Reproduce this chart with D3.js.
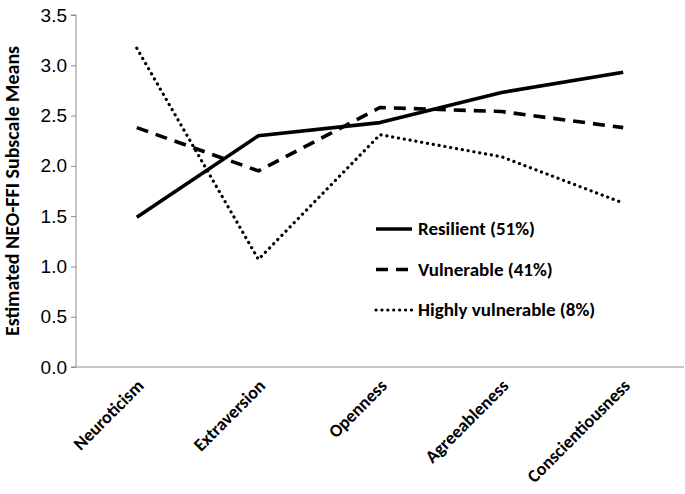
<!DOCTYPE html>
<html>
<head>
<meta charset="utf-8">
<script src="https://cdn.jsdelivr.net/npm/d3@7"></script>
<style>
  body { margin: 0; background: #fff; }
  svg { display: block; font-family: Carlito, Calibri, "Open Sans", sans-serif; }
</style>
</head>
<body>
<div id="chart"></div>
<script>
// Data
const traits = ['Neuroticism', 'Extraversion', 'Openness', 'Agreeableness', 'Conscientiousness'];
const resilient = [1.49, 2.30, 2.43, 2.73, 2.93];
const vulnerable = [2.38, 1.95, 2.58, 2.54, 2.38];
const highlyVulnerable = [3.17, 1.07, 2.31, 2.09, 1.63];
const seriesNames = ['Resilient (51%)', 'Vulnerable (41%)', 'Highly vulnerable (8%)'];
const yTicks = [0, 0.5, 1, 1.5, 2, 2.5, 3, 3.5];

const width = 685, height = 494;
const margin = { top: 15, right: 1, bottom: 127, left: 76 };
const innerW = width - margin.left - margin.right;
const innerH = height - margin.top - margin.bottom;

const svg = d3.select('#chart').append('svg')
    .attr('width', width)
    .attr('height', height);

const g = svg.append('g')
    .attr('transform', `translate(${margin.left},${margin.top})`);

// Scales
const x = d3.scaleBand().domain(traits).range([0, innerW]);
const y = d3.scaleLinear().domain([0, 3.5]).range([innerH, 0]);

// Axes
const yAxis = d3.axisLeft(y).tickValues(yTicks).tickFormat(d3.format('.1f')).tickSize(5).tickPadding(4);
const gy = g.append('g').call(yAxis);
gy.selectAll('text').style('font-size', '19px').attr('fill', '#000');

const xAxis = d3.axisBottom(x).tickSize(0).tickFormat('');
const gx = g.append('g').attr('transform', `translate(0,${innerH})`).call(xAxis);

// Tick marks at band boundaries
const bounds = traits.map(t => x(t)).concat([innerW]);
gx.selectAll('.bound')
    .data(bounds)
    .enter().append('line')
    .attr('x1', d => d).attr('x2', d => d)
    .attr('y1', 0).attr('y2', 5);

g.selectAll('.domain, .tick line, .bound').attr('stroke', '#8c8c8c').attr('stroke-width', 1);
gy.select('.domain').attr('d', `M-5,${innerH}H0V0H-5`);
gx.select('.domain').attr('d', `M0,0H${innerW}`);

// Category labels
g.append('g').selectAll('text')
    .data(traits)
    .enter().append('text')
    .attr('transform', d => `translate(${x(d) + x.bandwidth() / 2 + 8},${innerH + 20}) rotate(-45)`)
    .attr('text-anchor', 'end')
    .style('font-size', '18px')
    .style('font-weight', 'bold')
    .text(d => d);

// Y label
g.append('text')
    .attr('transform', 'rotate(-90)')
    .attr('x', -innerH / 2)
    .attr('y', -57)
    .attr('text-anchor', 'middle')
    .style('font-size', '20px')
    .style('font-weight', 'bold')
    .text('Estimated NEO-FFI Subscale Means');

// Lines
const line = d3.line()
    .x((d, i) => x(traits[i]) + x.bandwidth() / 2)
    .y(d => y(d));

const styles = [
    { dash: null, cap: 'butt' },
    { dash: '12,8', cap: 'butt' },
    { dash: '0.1,5.8', cap: 'round' }
];
const allSeries = [resilient, vulnerable, highlyVulnerable];

allSeries.forEach((s, i) => {
    g.append('path')
        .datum(s)
        .attr('d', line)
        .attr('fill', 'none')
        .attr('stroke', '#000')
        .attr('stroke-width', i === 2 ? 3.2 : 3.6)
        .attr('stroke-linejoin', 'round')
        .attr('stroke-linecap', styles[i].cap)
        .attr('stroke-dasharray', styles[i].dash);
});

// Legend
const legend = svg.append('g').attr('transform', 'translate(376,229)');
seriesNames.forEach((name, i) => {
    const row = legend.append('g').attr('transform', `translate(0,${i * 40.5})`);
    row.append('line')
        .attr('x1', 0).attr('x2', 36)
        .attr('stroke', '#000')
        .attr('stroke-width', i === 2 ? 3.2 : 3.6)
        .attr('stroke-linecap', styles[i].cap)
        .attr('stroke-dasharray', styles[i].dash);
    row.append('text')
        .attr('x', 42).attr('y', 6)
        .style('font-size', '19px')
        .style('font-weight', 'bold')
        .text(name);
});
</script>
</body>
</html>
